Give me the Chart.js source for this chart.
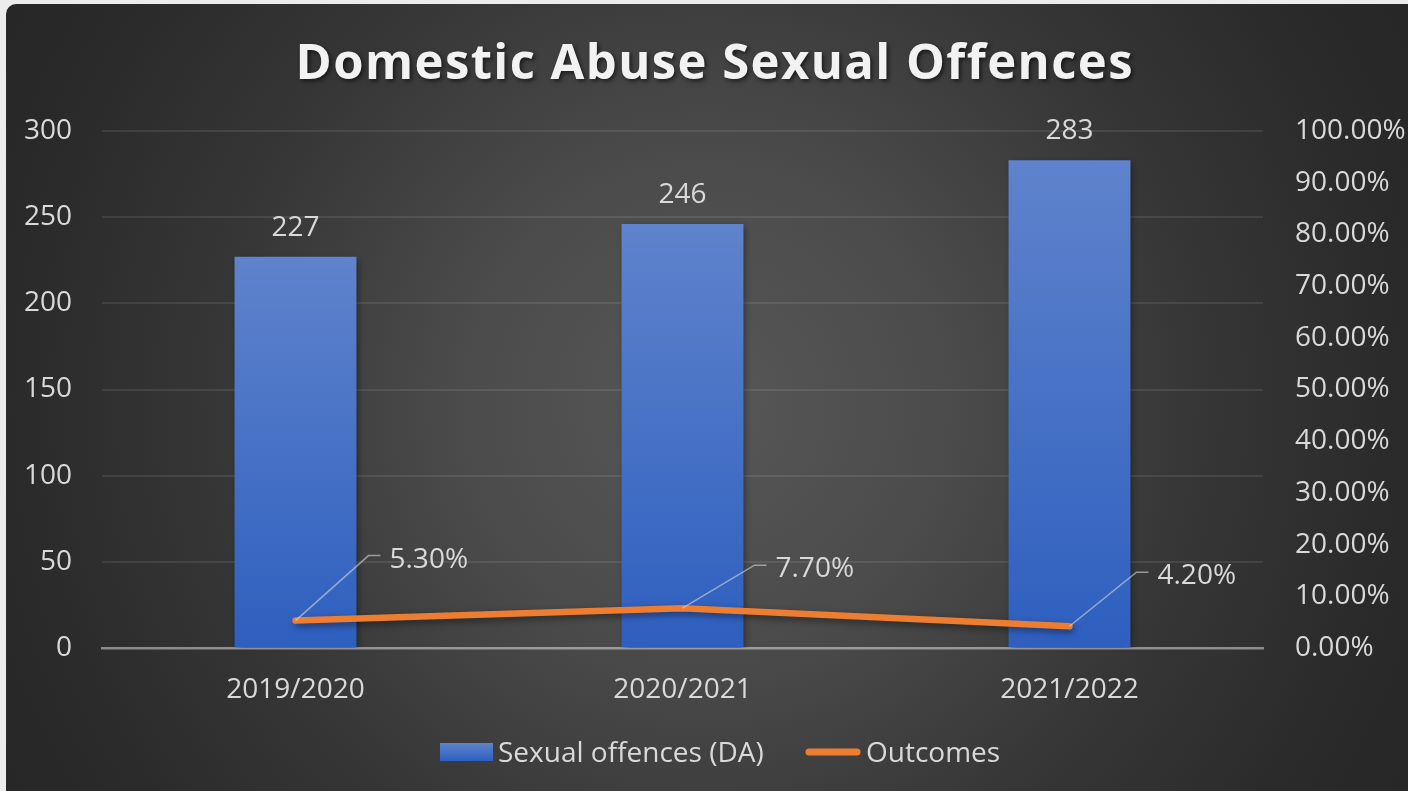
<!DOCTYPE html>
<html>
<head>
<meta charset="utf-8">
<script src="https://cdn.jsdelivr.net/npm/chart.js@4.4.0/dist/chart.umd.min.js"></script>
<style>
  html, body { margin: 0; padding: 0; background: #ececec; overflow: hidden; }
  #wrap { position: absolute; left: 6px; top: 4px; width: 1402px; height: 787px;
          border-top-left-radius: 10px; overflow: hidden; }
  canvas { display: block; }
</style>
</head>
<body>
<div id="wrap"><canvas id="chart" width="1402" height="787"></canvas></div>
<script>
// Chart data
const categories = ['2019/2020', '2020/2021', '2021/2022'];
const sexualOffences = [227, 246, 283];
const outcomesPct = [5.3, 7.7, 4.2];
const chartTitle = 'Domestic Abuse Sexual Offences';
const seriesNames = ['Sexual offences (DA)', 'Outcomes'];

const FONT = '"Open Sans", "Noto Sans", sans-serif';
const TEXT = '#d9d9d9';
const ORANGE = '#ed7d31';

function barGradient(ctx, top, bottom) {
  const g = ctx.createLinearGradient(0, top, 0, bottom);
  g.addColorStop(0, '#5f83cc');
  g.addColorStop(1, '#2e5fbf');
  return g;
}

// Dark radial backdrop
const backdrop = {
  id: 'backdrop',
  beforeDraw(chart) {
    const { ctx, width, height } = chart;
    const g = ctx.createRadialGradient(700, 400, 0, 700, 400, 820);
    g.addColorStop(0, '#575757');
    g.addColorStop(0.3, '#4b4b4b');
    g.addColorStop(0.6, '#363636');
    g.addColorStop(0.85, '#2a2a2a');
    g.addColorStop(1, '#262626');
    ctx.save();
    ctx.fillStyle = g;
    ctx.fillRect(0, 0, width, height);
    ctx.restore();
  }
};

// Soft drop shadow under bars and the line
const shadows = {
  id: 'shadows',
  beforeDatasetDraw(chart) {
    const ctx = chart.ctx;
    ctx.save();
    ctx.shadowColor = 'rgba(0,0,0,0.45)';
    ctx.shadowBlur = 7;
    ctx.shadowOffsetX = 2;
    ctx.shadowOffsetY = 3;
  },
  afterDatasetDraw(chart) {
    chart.ctx.restore();
  }
};

// Title, value labels with leader lines, and legend
const annotations = {
  id: 'annotations',
  afterDraw(chart) {
    const { ctx } = chart;
    ctx.save();

    // Title
    ctx.font = 'bold 49px ' + FONT;
    const natural = ctx.measureText(chartTitle).width;
    const target = 837;
    const spacing = Math.max(0, (target - natural) / (chartTitle.length - 1));
    ctx.letterSpacing = spacing + 'px';
    ctx.fillStyle = '#f2f2f2';
    ctx.textAlign = 'center';
    ctx.textBaseline = 'alphabetic';
    ctx.shadowColor = 'rgba(0,0,0,0.6)';
    ctx.shadowBlur = 4;
    ctx.shadowOffsetX = 2;
    ctx.shadowOffsetY = 2;
    ctx.fillText(chartTitle, 708 + spacing / 2, 75, target + 4);
    ctx.letterSpacing = '0px';
    ctx.shadowColor = 'transparent';

    // Bar value labels
    ctx.font = '28px ' + FONT;
    ctx.fillStyle = TEXT;
    ctx.textAlign = 'center';
    const barMeta = chart.getDatasetMeta(0);
    barMeta.data.forEach((bar, i) => {
      ctx.fillText(String(sexualOffences[i]), bar.x, bar.y - 21);
    });

    // Percentage labels with leader lines
    const offsets = [[94, -63], [93, -41], [88, -52]];
    const lineMeta = chart.getDatasetMeta(1);
    ctx.textAlign = 'left';
    lineMeta.data.forEach((pt, i) => {
      const tx = pt.x + offsets[i][0];
      const ty = pt.y + offsets[i][1];
      ctx.strokeStyle = 'rgba(217,217,217,0.6)';
      ctx.lineWidth = 1.5;
      ctx.beginPath();
      ctx.moveTo(pt.x, pt.y);
      ctx.lineTo(tx - 21, ty - 2);
      ctx.lineTo(tx - 9, ty - 2);
      ctx.stroke();
      ctx.fillStyle = TEXT;
      ctx.fillText(outcomesPct[i].toFixed(2) + '%', tx, ty + 10);
    });

    // Legend
    ctx.fillStyle = barGradient(ctx, 739, 757);
    ctx.fillRect(434, 739, 53, 18);
    ctx.fillStyle = TEXT;
    ctx.font = '28px ' + FONT;
    ctx.fillText(seriesNames[0], 492, 758);
    ctx.strokeStyle = ORANGE;
    ctx.lineWidth = 7;
    ctx.lineCap = 'round';
    ctx.beginPath();
    ctx.moveTo(803, 748);
    ctx.lineTo(851, 748);
    ctx.stroke();
    ctx.fillText(seriesNames[1], 860, 758);

    ctx.restore();
  }
};

new Chart(document.getElementById('chart'), {
  data: {
    labels: categories,
    datasets: [
      {
        type: 'bar',
        label: seriesNames[0],
        data: sexualOffences,
        yAxisID: 'y',
        order: 2,
        categoryPercentage: 1,
        barPercentage: 0.315,
        backgroundColor(c) {
          const chart = c.chart;
          if (!chart.chartArea) return '#4a74c8';
          const ys = chart.scales.y;
          const v = c.raw;
          return barGradient(chart.ctx, ys.getPixelForValue(v), ys.getPixelForValue(0));
        },
        borderWidth: 0
      },
      {
        type: 'line',
        label: seriesNames[1],
        data: outcomesPct,
        yAxisID: 'y1',
        order: 1,
        borderColor: ORANGE,
        borderWidth: 6.5,
        borderCapStyle: 'round',
        borderJoinStyle: 'round',
        pointRadius: 0,
        tension: 0,
        fill: false
      }
    ]
  },
  options: {
    responsive: false,
    animation: false,
    devicePixelRatio: 1,
    layout: { padding: { top: 127, left: 0, right: 0, bottom: 0 } },
    plugins: {
      legend: { display: false },
      title: { display: false },
      tooltip: { enabled: false }
    },
    scales: {
      x: {
        z: 1,
        grid: { display: false, drawTicks: false },
        border: { display: true, color: 'rgba(255,255,255,0.45)', width: 2.5 },
        ticks: { color: TEXT, font: { family: FONT, size: 28 }, padding: 25 },
        afterFit(s) { s.height = 143; }
      },
      y: {
        position: 'left',
        min: 0,
        max: 300,
        ticks: { stepSize: 50, color: TEXT, font: { family: FONT, size: 28 }, padding: 30 },
        grid: {
          drawTicks: false,
          lineWidth: 2,
          color: (c) => (c.tick && c.tick.value === 0) ? 'rgba(0,0,0,0)' : 'rgba(255,255,255,0.09)'
        },
        border: { display: false },
        afterFit(s) { s.width = 96; }
      },
      y1: {
        position: 'right',
        min: 0,
        max: 100,
        ticks: {
          stepSize: 10,
          color: TEXT,
          font: { family: FONT, size: 28 },
          padding: 32,
          callback: (v) => Number(v).toFixed(2) + '%'
        },
        grid: { display: false, drawTicks: false },
        border: { display: false },
        afterFit(s) { s.width = 145; }
      }
    }
  },
  plugins: [backdrop, shadows, annotations]
});
</script>
</body>
</html>
